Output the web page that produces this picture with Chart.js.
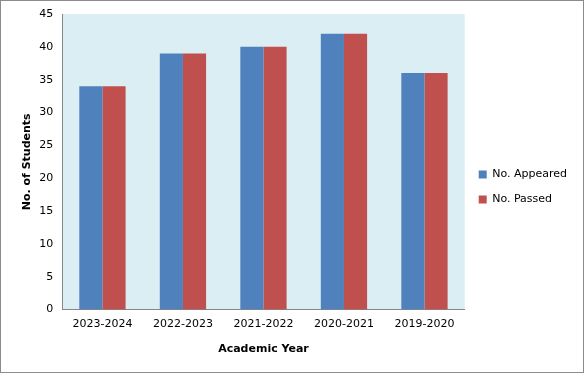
<!doctype html>
<html lang="en">
  <head>
    <meta charset="utf-8">
    <title>Students Appeared and Passed</title>
    <style>
      body { margin: 0; background: #fff; }
      #wrap { position: absolute; left: 0; top: 0; width: 582px; height: 371px; border: 1px solid #8c8c8c; }
    </style>
  </head>
  <body>
    <div id="wrap">
      <canvas id="resultChart" width="582" height="371"></canvas>
    </div>

    <script src="https://cdn.jsdelivr.net/npm/chart.js"></script>
    <script>
      const years = ['2023-2024', '2022-2023', '2021-2022', '2020-2021', '2019-2020'];
      const appeared = [34, 39, 40, 42, 36];
      const passed = [34, 39, 40, 42, 36];

      // light blue fill behind the plot area only
      const plotBackground = {
        id: 'plotBackground',
        beforeDraw(chart) {
          const a = chart.chartArea;
          const ctx = chart.ctx;
          ctx.save();
          ctx.fillStyle = '#dbeef4';
          ctx.fillRect(a.left, a.top, a.right - a.left, a.bottom - a.top);
          ctx.restore();
        }
      };

      const font = { family: 'DejaVu Sans', size: 11 };
      const bold = { family: 'DejaVu Sans', size: 11, weight: 'bold' };

      const resultChart = new Chart(document.getElementById('resultChart'), {
        type: 'bar',
        data: {
          labels: years,
          datasets: [{
            label: 'No. Appeared',
            backgroundColor: '#4f81bd',
            data: appeared,
          },
          {
            label: 'No. Passed',
            backgroundColor: '#c0504d',
            data: passed,
          }]
        },
        options: {
          responsive: false,
          animation: false,
          layout: { padding: { left: 16, right: 6, top: 13, bottom: 12 } },
          datasets: { bar: { categoryPercentage: 0.575, barPercentage: 1 } },
          plugins: {
            legend: {
              position: 'right',
              labels: { boxWidth: 8, boxHeight: 8, padding: 14, color: '#000', font: font }
            },
            tooltip: { enabled: false }
          },
          scales: {
            x: {
              grid: { display: false, drawTicks: false },
              border: { color: '#868686' },
              ticks: { color: '#000', font: font, padding: 8 },
              title: { display: true, text: 'Academic Year', color: '#000', font: bold, padding: { top: 4 } }
            },
            y: {
              min: 0,
              max: 45,
              grid: { display: false, drawOnChartArea: false, drawTicks: true, tickLength: 5, color: '#868686' },
              border: { color: '#868686' },
              ticks: { stepSize: 5, color: '#000', font: font, padding: 4 },
              title: { display: true, text: 'No. of Students', color: '#000', font: bold, padding: { bottom: 1 } }
            }
          }
        },
        plugins: [plotBackground]
      });
    </script>
  </body>
</html>
